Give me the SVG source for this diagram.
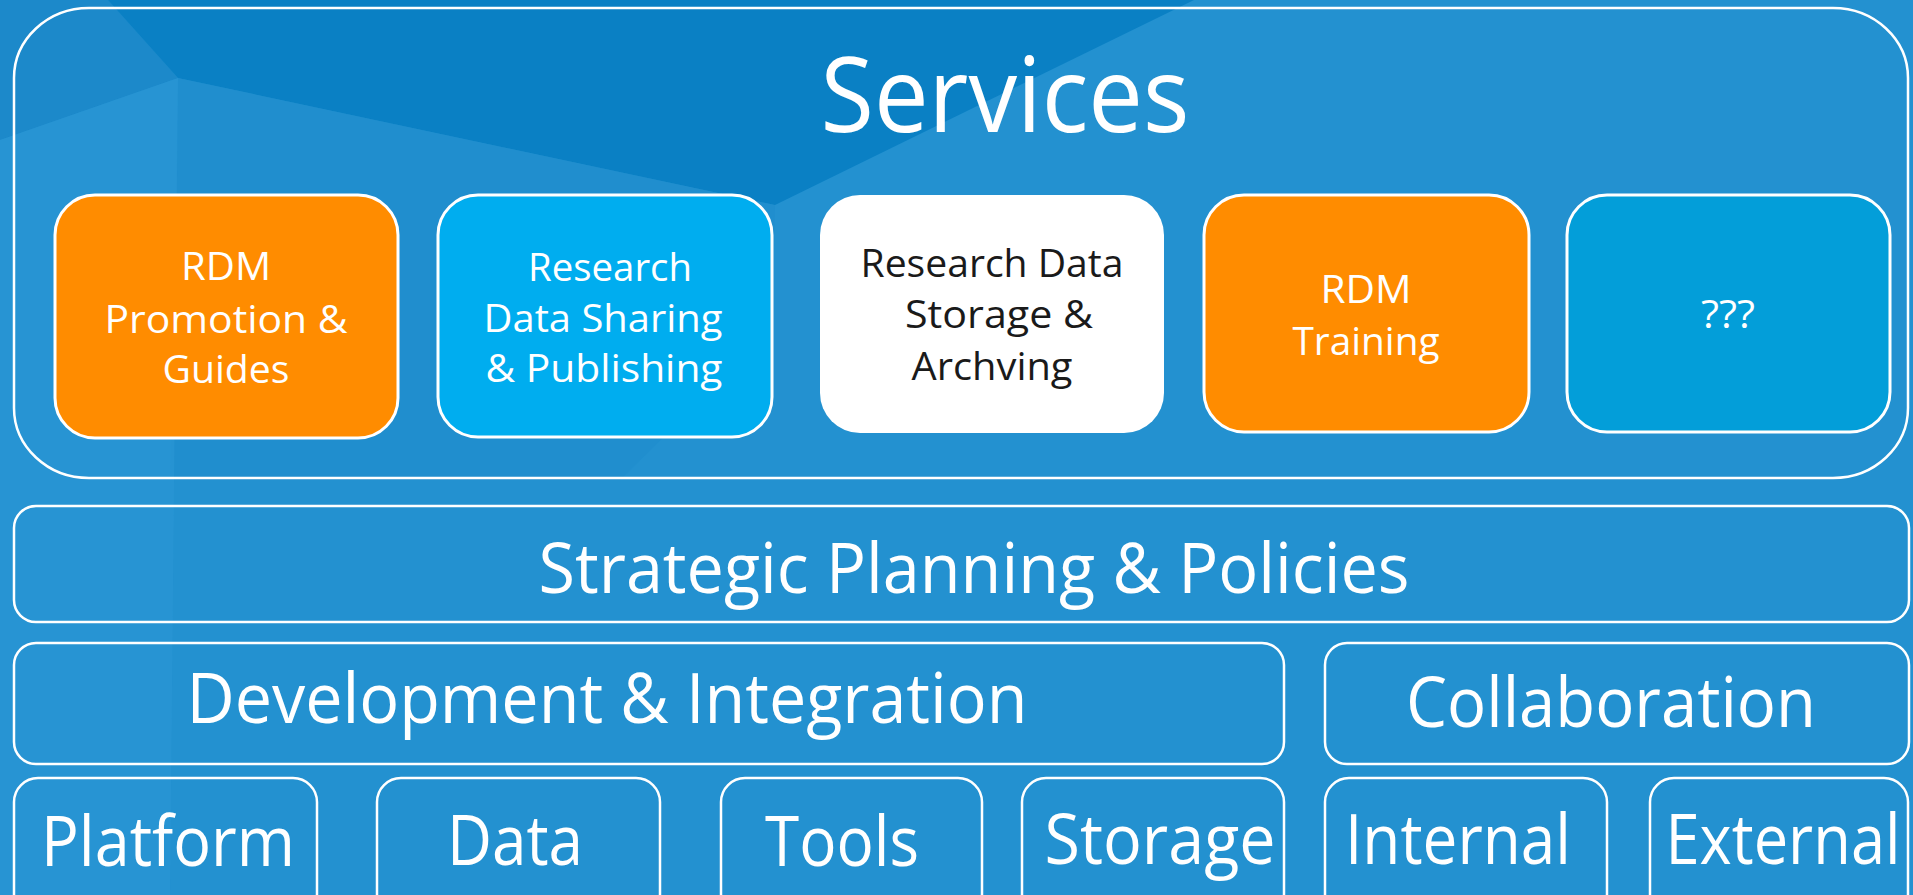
<svg xmlns="http://www.w3.org/2000/svg" width="1913" height="895" viewBox="0 0 1913 895">
<style>
.frame{fill:none;stroke:#ffffff;stroke-width:2.5}
.svc{stroke:#ffffff;stroke-width:3}
.t{font-family:"Open Sans","Noto Sans","Liberation Sans",sans-serif;fill:#ffffff;text-anchor:middle}
.dark{fill:#1a1a1a}
.s38{font-size:38px}
.s70{font-size:70px}
</style>
<g id="background">
<rect x="0" y="0" width="1913" height="895" fill="#2391d0"/>
<polygon points="0,0 108,0 178,78 0,140" fill="#1c89ca"/>
<polygon points="108,0 1194,0 775,205 178,78" fill="#0a80c4"/>
<polygon points="178,78 775,205 772,330 620,480 170,480" fill="#1e8ccd" opacity="0.6"/>
<polygon points="0,140 178,78 170,895 0,895" fill="#2a96d4" opacity="0.7"/>
</g>
<g id="services">
<rect class="frame" x="14" y="8" width="1894" height="470" rx="75" ry="70"/>
<text class="t" x="1005" y="132" font-size="104" textLength="369" lengthAdjust="spacingAndGlyphs">Services</text>
</g>
<g id="rdm-promotion">
<rect class="svc" x="55" y="195" width="343" height="243" rx="40" fill="#ff8c00"/>
<text class="t s38" x="226" y="280" textLength="90" lengthAdjust="spacingAndGlyphs">RDM</text>
<text class="t s38" x="226" y="333" textLength="243" lengthAdjust="spacingAndGlyphs">Promotion &amp;</text>
<text class="t s38" x="226" y="383" textLength="127" lengthAdjust="spacingAndGlyphs">Guides</text>
</g>
<g id="data-sharing">
<rect class="svc" x="438" y="195" width="334" height="242" rx="40" fill="#00adef"/>
<text class="t s38" x="610" y="281" textLength="164" lengthAdjust="spacingAndGlyphs">Research</text>
<text class="t s38" x="603" y="332" textLength="239" lengthAdjust="spacingAndGlyphs">Data Sharing</text>
<text class="t s38" x="604" y="382" textLength="237" lengthAdjust="spacingAndGlyphs">&amp; Publishing</text>
</g>
<g id="data-storage">
<rect x="820" y="195" width="344" height="238" rx="40" fill="#ffffff"/>
<text class="t s38 dark" x="992" y="277" textLength="263" lengthAdjust="spacingAndGlyphs">Research Data</text>
<text class="t s38 dark" x="999" y="328" textLength="188" lengthAdjust="spacingAndGlyphs">Storage &amp;</text>
<text class="t s38 dark" x="992" y="380" textLength="161" lengthAdjust="spacingAndGlyphs">Archving</text>
</g>
<g id="rdm-training">
<rect class="svc" x="1204" y="195" width="325" height="237" rx="40" fill="#ff8c00"/>
<text class="t s38" x="1366" y="303" textLength="91" lengthAdjust="spacingAndGlyphs">RDM</text>
<text class="t s38" x="1366" y="355" textLength="147" lengthAdjust="spacingAndGlyphs">Training</text>
</g>
<g id="unknown">
<rect class="svc" x="1567" y="195" width="323" height="237" rx="40" fill="#039ed9"/>
<text class="t s38" x="1728" y="328" textLength="54" lengthAdjust="spacingAndGlyphs">???</text>
</g>
<g id="strategic">
<rect class="frame" x="14" y="506" width="1895" height="116" rx="22"/>
<text class="t s70" x="974" y="593" textLength="871" lengthAdjust="spacingAndGlyphs">Strategic Planning &amp; Policies</text>
</g>
<g id="development">
<rect class="frame" x="14" y="643" width="1270" height="121" rx="22"/>
<text class="t s70" x="607" y="723" textLength="841" lengthAdjust="spacingAndGlyphs">Development &amp; Integration</text>
</g>
<g id="collaboration">
<rect class="frame" x="1325" y="643" width="584" height="121" rx="22"/>
<text class="t s70" x="1611" y="727" textLength="410" lengthAdjust="spacingAndGlyphs">Collaboration</text>
</g>
<g id="platform">
<rect class="frame" x="14" y="778" width="303" height="140" rx="24"/>
<text class="t s70" x="168" y="866" textLength="254" lengthAdjust="spacingAndGlyphs">Platform</text>
</g>
<g id="data">
<rect class="frame" x="377" y="778" width="283" height="140" rx="24"/>
<text class="t s70" x="515" y="865" textLength="136" lengthAdjust="spacingAndGlyphs">Data</text>
</g>
<g id="tools">
<rect class="frame" x="721" y="778" width="261" height="140" rx="24"/>
<text class="t s70" x="842" y="866" textLength="154" lengthAdjust="spacingAndGlyphs">Tools</text>
</g>
<g id="storage">
<rect class="frame" x="1022" y="778" width="262" height="140" rx="24"/>
<text class="t s70" x="1160" y="864" textLength="231" lengthAdjust="spacingAndGlyphs">Storage</text>
</g>
<g id="internal">
<rect class="frame" x="1325" y="778" width="282" height="140" rx="24"/>
<text class="t s70" x="1458" y="864" textLength="226" lengthAdjust="spacingAndGlyphs">Internal</text>
</g>
<g id="external">
<rect class="frame" x="1650" y="778" width="258" height="140" rx="24"/>
<text class="t s70" x="1783" y="864" textLength="235" lengthAdjust="spacingAndGlyphs">External</text>
</g>
<g id="connectors"></g>
</svg>
